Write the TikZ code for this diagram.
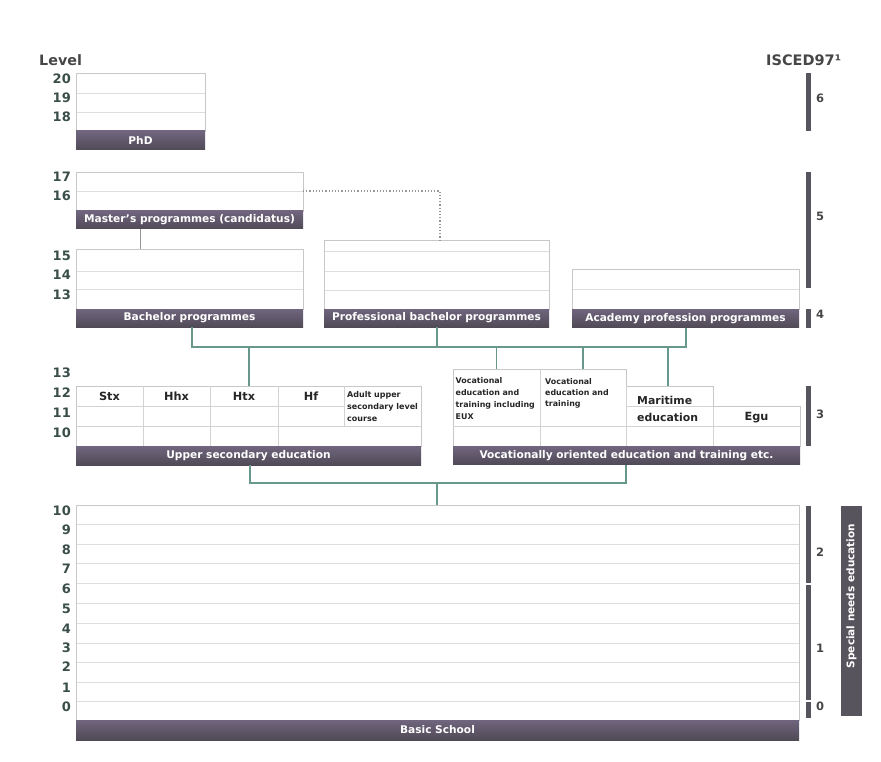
\documentclass[tikz,border=0pt]{standalone}
\usepackage{fontspec}
\setmainfont{DejaVu Sans}
\definecolor{barTop}{RGB}{112,101,126}
\definecolor{barBot}{RGB}{80,74,86}
\definecolor{iscedGray}{RGB}{88,84,94}
\definecolor{levelInk}{RGB}{58,78,73}
\definecolor{headInk}{RGB}{70,70,70}
\definecolor{frameGray}{RGB}{200,200,200}
\definecolor{ruleGray}{RGB}{222,222,222}
\definecolor{linkGreen}{RGB}{104,152,140}
\definecolor{linkGray}{RGB}{150,150,150}
\begin{document}
\begin{tikzpicture}[x=1pt,y=-1pt,
  panel/.style={draw=frameGray, line width=0.8pt, fill=white, anchor=north west,
                inner sep=0pt, outer sep=0pt},
  rowrule/.style={draw=ruleGray, line width=0.8pt},
  cellrule/.style={draw=frameGray!80, line width=0.8pt},
  bar/.style={anchor=north west, inner sep=0pt, outer sep=0pt,
              top color=barTop, bottom color=barBot, draw=none,
              text=white, font=\bfseries\fontsize{10.6}{11}\selectfont},
  lvl/.style={anchor=east, inner sep=0pt, text=levelInk,
              font=\bfseries\fontsize{13}{14}\selectfont},
  isced/.style={fill=iscedGray, draw=none, inner sep=0pt, outer sep=0pt,
                anchor=north west, minimum width=4.5pt},
  iscedlbl/.style={anchor=west, inner sep=0pt, text=headInk,
                   font=\bfseries\fontsize{11.5}{12}\selectfont},
  colhead/.style={inner sep=0pt, text=black!85,
                  font=\bfseries\fontsize{11.3}{12}\selectfont},
  smalltxt/.style={anchor=west, inner sep=0pt, align=left, text=black!85},
  link/.style={draw=linkGreen, line width=1.1pt},
  graylink/.style={draw=linkGray, line width=1pt},
  dotlink/.style={draw=linkGray, line width=1.2pt, dotted}
]
\useasboundingbox (0,0) rectangle (881,762);

% ---------- headings ----------
\node[anchor=west, inner sep=0pt, text=headInk, font=\bfseries\fontsize{14.3}{15}\selectfont]
  (levelhead) at (39,60) {Level};
\node[anchor=west, inner sep=0pt, text=headInk, font=\bfseries\fontsize{14.5}{15}\selectfont]
  (iscedhead) at (766,60) {ISCED97¹};

% ---------- level numbers ----------
\foreach \n/\y in {20/79,19/98,18/117,17/177,16/196,15/256,14/275,13/295,
                   13/373,12/393,11/413,10/433,
                   10/511,9/530,8/550,7/569,6/589,5/609,4/629,3/648,2/667,1/688,0/707}
  \node[lvl] (lv-\n-\y) at (71,\y) {\n};

% ---------- PhD ----------
\node[panel, minimum width=129pt, minimum height=58pt] (phd) at (76,73) {};
\foreach \y in {93,112} \draw[rowrule] (76.5,\y) -- (204.5,\y);
\node[bar, minimum width=129pt, minimum height=19pt] (phdbar) at (76,131) {PhD};

% ---------- Master's ----------
\node[panel, minimum width=227pt, minimum height=39pt] (master) at (76,172) {};
\draw[rowrule] (76.5,191) -- (302.5,191);
\node[bar, minimum width=227pt, minimum height=18pt] (masterbar) at (76,211)
  {Master's programmes (candidatus)};

% ---------- Bachelor ----------
\node[panel, minimum width=227pt, minimum height=60pt] (bach) at (76,249) {};
\foreach \y in {271,289} \draw[rowrule] (76.5,\y) -- (302.5,\y);
\node[bar, minimum width=227pt, minimum height=18pt] (bachbar) at (76,309)
  {Bachelor programmes};

% ---------- Professional bachelor ----------
\node[panel, minimum width=225pt, minimum height=69pt] (prof) at (324,240) {};
\foreach \y in {251,271,290} \draw[rowrule] (324.5,\y) -- (548.5,\y);
\node[bar, minimum width=225pt, minimum height=18pt] (profbar) at (324,309)
  {Professional bachelor programmes};

% ---------- Academy profession ----------
\node[panel, minimum width=227pt, minimum height=40pt] (acad) at (572,269) {};
\draw[rowrule] (572.5,289) -- (798.5,289);
\node[bar, minimum width=227pt, minimum height=18.5pt] (acadbar) at (572,309)
  {Academy profession programmes};

% ---------- Upper secondary education ----------
\node[panel, minimum width=345pt, minimum height=60pt] (upsec) at (76,386) {};
\draw[cellrule] (76,406.5) -- (344,406.5);
\draw[cellrule] (76,426) -- (421,426);
\foreach \x in {143,210,278} \draw[cellrule] (\x,386) -- (\x,446);
\draw[cellrule] (344,386) -- (344,426);
\node[colhead] (stx) at (109.5,396.5) {Stx};
\node[colhead] (hhx) at (176.5,396.5) {Hhx};
\node[colhead] (htx) at (244,396.5) {Htx};
\node[colhead] (hf)  at (311,396.5) {Hf};
\node[smalltxt, font=\bfseries\fontsize{8}{12}\selectfont] (adult) at (347,407)
  {Adult upper\\secondary level\\course};
\node[bar, minimum width=345pt, minimum height=18.5pt] (upsecbar) at (76,446.5)
  {Upper secondary education};

% ---------- Vocationally oriented education ----------
\path[draw=frameGray, line width=0.8pt, fill=white]
  (453,446) -- (453,369) -- (626,369) -- (626,386) -- (713,386)
  -- (713,406.5) -- (800,406.5) -- (800,446) -- cycle;
\coordinate (voccol1) at (496.5,369);
\coordinate (voccol2) at (583,369);
\coordinate (maricol) at (668,386);
\draw[cellrule] (626,406.5) -- (713,406.5);
\draw[cellrule] (453,426) -- (800,426);
\draw[cellrule] (540,369) -- (540,446);
\draw[cellrule] (626,386) -- (626,446);
\draw[cellrule] (713,406.5) -- (713,446);
\node[smalltxt, font=\bfseries\fontsize{7.9}{11.8}\selectfont] (voc1) at (455.5,398.5)
  {Vocational\\education and\\training including\\EUX};
\node[smalltxt, font=\bfseries\fontsize{7.9}{11.3}\selectfont] (voc2) at (545,393.5)
  {Vocational\\education and\\training};
\node[smalltxt, font=\bfseries\fontsize{10.9}{17.7}\selectfont, text=black!85] (mari) at (637,409)
  {Maritime\\education};
\node[colhead] (egu) at (756.5,417.5) {Egu};
\node[bar, minimum width=347pt, minimum height=18pt] (vocbar) at (453,446.5)
  {Vocationally oriented education and training etc.};

% ---------- Basic School ----------
\node[panel, minimum width=723pt, minimum height=215pt] (basic) at (76,505) {};
\foreach \y in {524.5,544,563.5,583.5,603.5,623,643,662,682,701.5}
  \draw[rowrule] (76.5,\y) -- (798.5,\y);
\node[bar, minimum width=723pt, minimum height=20pt] (basicbar) at (76,720)
  {Basic School};

% ---------- ISCED97 levels ----------
\node[isced, minimum height=58pt]  (is6) at (806,73) {};
\node[isced, minimum height=116pt] (is5) at (806,172) {};
\node[isced, minimum height=19pt]  (is4) at (806,308.5) {};
\node[isced, minimum height=60pt]  (is3) at (806,386) {};
\node[isced, minimum height=77pt]  (is2) at (806,506) {};
\node[isced, minimum height=115pt] (is1) at (806,585) {};
\node[isced, minimum height=16pt]  (is0) at (806,702) {};
\node[iscedlbl] (il6) at (816,98)  {6};
\node[iscedlbl] (il5) at (816,216) {5};
\node[iscedlbl] (il4) at (816,314) {4};
\node[iscedlbl] (il3) at (816,414) {3};
\node[iscedlbl] (il2) at (816,552) {2};
\node[iscedlbl] (il1) at (816,648) {1};
\node[iscedlbl] (il0) at (816,706) {0};

% ---------- Special needs education ----------
\node[fill=iscedGray, draw=none, inner sep=0pt, outer sep=0pt, anchor=north west,
      minimum width=21pt, minimum height=210pt] (special) at (841,506) {};
\node[rotate=90, inner sep=0pt, text=white,
      font=\bfseries\fontsize{10.5}{11}\selectfont] (specialtxt) at (special.center |- 0,596)
  {Special needs education};

% ---------- connectors ----------
% Master's -> Bachelor
\draw[graylink] (masterbar.south -| 140,0) -- (bach.north -| 140,0);
% Master's -> Professional bachelor (dotted)
\draw[dotlink] (master.east |- 0,191) -| (prof.north -| 440,0);

% higher education hub
\coordinate (hubtop) at (437,347);
\draw[link] (bachbar.south -| 192,0) |- (hubtop) -| (acadbar.south -| 686,0);
\draw[link] (profbar.south -| 437,0) -- (hubtop);
\draw[link] (hubtop -| 249,0) -- (upsec.north -| 249,0);
\draw[link] (hubtop -| voccol1) -- (voccol1);
\draw[link] (hubtop -| voccol2) -- (voccol2);
\draw[link] (hubtop -| maricol) -- (maricol);

% upper secondary hub
\coordinate (hubmid) at (437,483);
\draw[link] (upsecbar.south -| 250,0) |- (hubmid) -| (vocbar.south -| 626,0);
\draw[link] (hubmid) -- (basic.north -| hubmid);
\end{tikzpicture}
\end{document}
